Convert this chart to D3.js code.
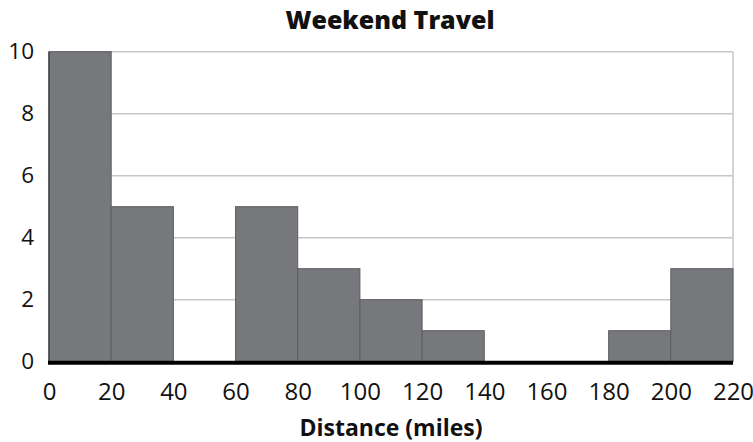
<!DOCTYPE html>
<html><head><meta charset="utf-8">
<script src="https://cdn.jsdelivr.net/npm/d3@7"></script>
<style>body{margin:0;background:#fff}svg{display:block}</style>
</head><body>
<script>
const binStarts = [0,20,40,60,80,100,120,140,160,180,200];
const binWidth = 20;
const counts = [10,5,0,5,3,2,1,0,0,1,3];
const xTicks = [0,20,40,60,80,100,120,140,160,180,200,220];
const yTicks = [0,2,4,6,8,10];
const title = "Weekend Travel";
const xLabel = "Distance (miles)";

const W=753,H=442;
const m={left:49,right:20,top:51.7,bottom:80};
const svg=d3.select("body").append("svg").attr("width",W).attr("height",H);
const font="'Open Sans', sans-serif";
const x=d3.scaleLinear().domain([0,220]).range([m.left,733]);
const y=d3.scaleLinear().domain([0,10]).range([361.7,m.top]);

// gridlines
svg.append("g").selectAll("line").data(yTicks.filter(d=>d>0)).join("line")
  .attr("x1",x(0)).attr("x2",x(220)).attr("y1",d=>y(d)).attr("y2",d=>y(d))
  .attr("stroke","#c6c6c6").attr("stroke-width",1.5);
// right border
svg.append("line").attr("x1",x(220)).attr("x2",x(220)).attr("y1",y(10)).attr("y2",y(0))
  .attr("stroke","#c6c6c6").attr("stroke-width",1.5);

// bars
svg.append("g").selectAll("rect").data(binStarts.map((s,i)=>({s,c:counts[i]})).filter(d=>d.c>0)).join("rect")
  .attr("x",d=>x(d.s)).attr("width",d=>x(d.s+binWidth)-x(d.s))
  .attr("y",d=>y(d.c)).attr("height",d=>y(0)-y(d.c))
  .attr("fill","#77787c").attr("stroke","#5c5d61").attr("stroke-width",1);

// left axis line
svg.append("line").attr("x1",x(0)).attr("x2",x(0)).attr("y1",y(10)).attr("y2",y(0))
  .attr("stroke","#333").attr("stroke-width",1.2);
// baseline
svg.append("line").attr("x1",x(0)-1).attr("x2",x(220)).attr("y1",y(0)+1).attr("y2",y(0)+1)
  .attr("stroke","#000").attr("stroke-width",4);

// y ticks
const yAxis=svg.append("g").attr("transform",`translate(${x(0)},0)`)
  .call(d3.axisLeft(y).tickValues(yTicks).tickSize(0).tickPadding(15));
yAxis.select(".domain").remove();
yAxis.selectAll("text").attr("font-family",font).attr("font-size",22.5).attr("fill","#111");

// x ticks
const xAxis=svg.append("g").attr("transform",`translate(0,${y(0)})`)
  .call(d3.axisBottom(x).tickValues(xTicks).tickSize(0).tickPadding(21));
xAxis.select(".domain").remove();
xAxis.selectAll("text").attr("font-family",font).attr("font-size",24).attr("fill","#111");

svg.append("text").attr("x",390).attr("y",29).attr("text-anchor","middle")
  .attr("font-family",font).attr("font-weight",800).attr("font-size",25).attr("fill","#111").text(title);
svg.append("text").attr("x",391).attr("y",436).attr("text-anchor","middle")
  .attr("font-family",font).attr("font-weight","bold").attr("font-size",23).attr("fill","#111").text(xLabel);
</script>
</body></html>
